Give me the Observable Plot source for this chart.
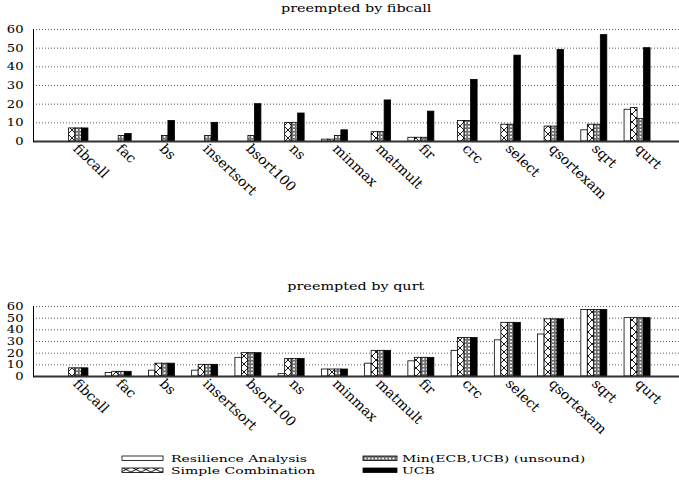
<!DOCTYPE html>
<html><head><meta charset="utf-8">
<script src="https://cdn.jsdelivr.net/npm/d3@7"></script>
<script src="https://cdn.jsdelivr.net/npm/@observablehq/plot@0.6"></script>
<style>
body{margin:0;background:#fff;}
#root{position:relative;width:679px;height:488px;overflow:hidden;font-family:"DejaVu Serif",serif;color:#000;background:#fff;}
.title{position:absolute;left:33px;width:646px;text-align:center;font-size:11.5px;line-height:11.5px;white-space:nowrap;}
.title span{display:inline-block;transform:scaleX(1.25);transform-origin:center;}
.panel{position:absolute;left:0;}
.lg{position:absolute;font-size:10px;line-height:12px;height:12px;white-space:nowrap;transform:scaleX(1.4);transform-origin:left;}
.sw{position:absolute;}
</style></head><body>
<svg width="0" height="0" style="position:absolute"><defs>
<pattern id="pSimple" patternUnits="userSpaceOnUse" width="8" height="8"><rect width="8" height="8" fill="#fff"/><path d="M0,0L8,8M8,0L0,8" stroke="#000" stroke-width="0.9"/></pattern>
<pattern id="pMin" patternUnits="userSpaceOnUse" width="3.5" height="3.5"><rect width="3.5" height="3.5" fill="#fff"/><circle cx="1.75" cy="1.75" r="1.15" fill="none" stroke="#000" stroke-width="0.8"/></pattern>
<pattern id="pSimpleL" patternUnits="userSpaceOnUse" width="10" height="5"><rect width="10" height="5" fill="#fff"/><path d="M0,0L10,5M10,0L0,5" stroke="#000" stroke-width="0.9"/></pattern>
</defs></svg>
<div id="root"></div>
<script>
const categories = ["fibcall","fac","bs","insertsort","bsort100","ns","minmax","matmult","fir","crc","select","qsortexam","sqrt","qurt"];
const series = ["Resilience Analysis","Simple Combination","Min(ECB,UCB) (unsound)","UCB"];
const yTicks = [0,10,20,30,40,50,60];
const titles = ["preempted by fibcall","preempted by qurt"];

// preempted by fibcall
const fibcallResilience = [0,0,0,0,0,0,1,0,2,0,0,0,6,17];
const fibcallSimple     = [7,0,0,0,0,10,1,5,2,11,9,8,9,18];
const fibcallMin        = [7,3,3,3,3,10,3,5,2,11,9,8,9,12];
const fibcallUCB        = [7,4,11,10,20,15,6,22,16,33,46,49,57,50];
// preempted by qurt
const qurtResilience = [0,3,5,5,16,2,6,11,13,22,31,36,57,50];
const qurtSimple     = [7,4,11,10,20,15,6,22,16,33,46,49,57,50];
const qurtMin        = [7,4,11,10,20,15,6,22,16,33,46,49,57,50];
const qurtUCB        = [7,4,11,10,20,15,6,22,16,33,46,49,57,50];

const fills = ["#fff","url(#pSimple)","url(#pMin)","#000"];
const legendFills = ["#fff","url(#pSimpleL)","url(#pMin)","#000"];

function rows(arrs){
  const out=[];
  arrs.forEach((a,si)=>a.forEach((v,ci)=>out.push({category:categories[ci],series:series[si],value:v})));
  return out;
}

const W=679, ML=33, MR=0, PO=0.47, GROUP=26;
const step=(W-ML-MR)/(categories.length+2*PO);
const slot=GROUP/series.length;

function stretchText(svg){
  svg.querySelectorAll('g[aria-label$="tick label"] text').forEach(t=>{
    let tr=t.getAttribute("transform");
    if(!tr){const x=+t.getAttribute("x")||0,y=+t.getAttribute("y")||0;t.removeAttribute("x");t.removeAttribute("y");tr=`translate(${x},${y})`;}
    if(tr.includes("rotate(")) tr=tr.replace("rotate(","scale(1.06,1) rotate(");
    else tr+=" scale(1.25,1)";
    t.setAttribute("transform",tr);
  });
}

function makePanel(data,height,marginTop,marginBottom){
  const marks=[
    Plot.gridY(yTicks.filter(v=>v>0),{stroke:"#333",strokeOpacity:1,strokeWidth:0.8,strokeDasharray:"1,2"}),
  ];
  series.forEach((s,i)=>{
    const il=(step-GROUP)/2+slot*i;
    marks.push(Plot.barY(data.filter(d=>d.series===s&&d.value>0),{x:"category",y:"value",fill:fills[i],stroke:"#000",strokeWidth:0.8,insetLeft:il,insetRight:step-il-slot}));
  });
  marks.push(
    Plot.ruleY([0],{stroke:"#333",strokeWidth:2}),
    Plot.frame({anchor:"left",stroke:"#000"}),
    Plot.axisY(yTicks,{tickSize:0,tickPadding:10,label:null,fontSize:10.5}),
    Plot.axisX({tickSize:0,tickPadding:5,tickRotate:45,label:null,fontSize:13.3})
  );
  const svg=Plot.plot({
    width:W,height,marginLeft:ML,marginRight:MR,marginTop,marginBottom,
    style:{fontFamily:"'DejaVu Serif', serif",color:"#000",background:"transparent",overflow:"visible"},
    x:{type:"band",domain:categories,paddingInner:0,paddingOuter:PO,round:false,label:null},
    y:{domain:[0,60],label:null},
    marks
  });
  stretchText(svg);
  return svg;
}

const root=document.getElementById("root");
function addTitle(text,top){
  const d=document.createElement("div");d.className="title";d.style.top=top+"px";
  const s=document.createElement("span");s.textContent=text;d.appendChild(s);root.appendChild(d);
}
function addPanel(svg,top){svg.classList.add("panel");svg.style.position="absolute";svg.style.top=top+"px";svg.style.left="0px";root.appendChild(svg);}

addTitle(titles[0],3);
addPanel(makePanel(rows([fibcallResilience,fibcallSimple,fibcallMin,fibcallUCB]),200,11,77),18);
addTitle(titles[1],281.3);
addPanel(makePanel(rows([qurtResilience,qurtSimple,qurtMin,qurtUCB]),160,10,80),296);

// legend
const lgPos=[{sx:122,sw:41,tx:171,row:0},{sx:122,sw:41,tx:171,row:1},{sx:363,sw:34,tx:402,row:0},{sx:363,sw:34,tx:402,row:1}];
const ROWGAP=12;
series.forEach((s,i)=>{
  const p=lgPos[i];
  const sy=456+p.row*ROWGAP;
  const svgNS="http://www.w3.org/2000/svg";
  const sv=document.createElementNS(svgNS,"svg");
  sv.setAttribute("class","sw");sv.setAttribute("width",p.sw+2);sv.setAttribute("height",7);
  sv.style.left=(p.sx-1)+"px";sv.style.top=(sy-1)+"px";
  const r=document.createElementNS(svgNS,"rect");
  r.setAttribute("x",1);r.setAttribute("y",1);r.setAttribute("width",p.sw);r.setAttribute("height",4.5);
  r.setAttribute("fill",legendFills[i]);r.setAttribute("stroke","#000");r.setAttribute("stroke-width",0.8);
  sv.appendChild(r);root.appendChild(sv);
  const t=document.createElement("div");t.className="lg";t.textContent=s;
  t.style.left=p.tx+"px";t.style.top=(452.5+p.row*ROWGAP)+"px";root.appendChild(t);
});
</script>
</body></html>
